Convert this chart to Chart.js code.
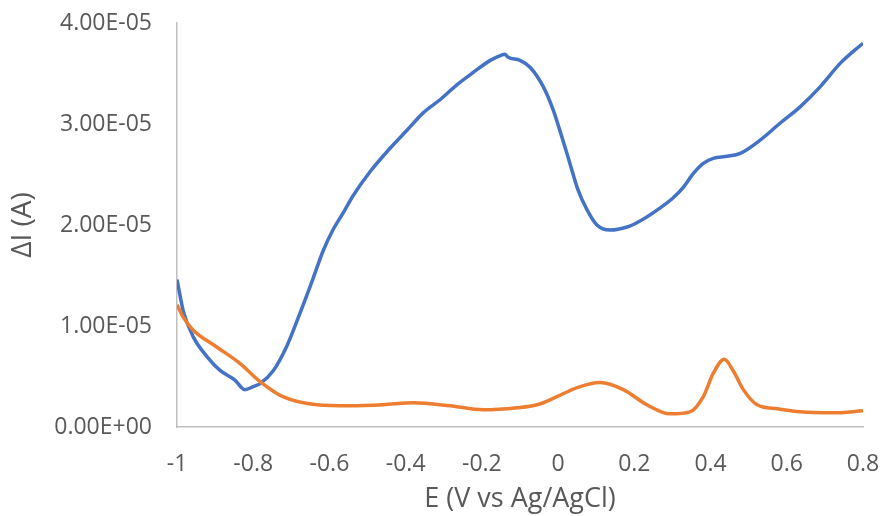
<!DOCTYPE html>
<html>
<head>
<meta charset="utf-8">
<script src="https://cdn.jsdelivr.net/npm/chart.js@4"></script>
<style>
  html, body { margin: 0; padding: 0; background: #fff; }
  #wrap { width: 882px; height: 516px; }
</style>
</head>
<body>
<div id="wrap"><canvas id="grafico" width="882" height="516"></canvas></div>
<script>
// curva azul (E em V, corrente em A)
const azulE = [-1.000, -0.983, -0.957, -0.922, -0.887, -0.848, -0.822, -0.800, -0.782, -0.747,
  -0.712, -0.677, -0.643, -0.617, -0.591, -0.564, -0.538, -0.493, -0.441, -0.396,
  -0.354, -0.310, -0.265, -0.223, -0.178, -0.150, -0.140, -0.131, -0.100, -0.073,
  -0.039, -0.013, 0.010, 0.031, 0.052, 0.076, 0.102, 0.136, 0.181, 0.215,
  0.268, 0.302, 0.328, 0.355, 0.381, 0.407, 0.444, 0.478, 0.530, 0.583,
  0.635, 0.688, 0.740, 0.800];
const azulI = [1.46e-5, 1.14e-5, 0.89e-5, 0.70e-5, 0.56e-5, 0.465e-5, 0.37e-5, 0.40e-5, 0.43e-5, 0.56e-5,
  0.80e-5, 1.13e-5, 1.47e-5, 1.74e-5, 1.95e-5, 2.12e-5, 2.29e-5, 2.53e-5, 2.76e-5, 2.94e-5,
  3.11e-5, 3.24e-5, 3.39e-5, 3.51e-5, 3.63e-5, 3.68e-5, 3.69e-5, 3.66e-5, 3.63e-5, 3.56e-5,
  3.37e-5, 3.14e-5, 2.87e-5, 2.61e-5, 2.35e-5, 2.15e-5, 2.00e-5, 1.95e-5, 1.98e-5, 2.04e-5,
  2.17e-5, 2.27e-5, 2.37e-5, 2.51e-5, 2.61e-5, 2.66e-5, 2.68e-5, 2.71e-5, 2.84e-5, 3.01e-5,
  3.17e-5, 3.37e-5, 3.60e-5, 3.80e-5];

// curva laranja
const laranjaE = [-1.000, -0.984, -0.958, -0.895, -0.835, -0.782, -0.722, -0.633, -0.546, -0.459,
  -0.380, -0.283, -0.197, -0.108, -0.055, -0.003, 0.050, 0.110, 0.171, 0.233,
  0.294, 0.346, 0.381, 0.407, 0.436, 0.459, 0.486, 0.522, 0.575, 0.635,
  0.722, 0.800];
const laranjaI = [1.21e-5, 1.09e-5, 0.96e-5, 0.79e-5, 0.63e-5, 0.45e-5, 0.30e-5, 0.22e-5, 0.21e-5, 0.22e-5,
  0.24e-5, 0.21e-5, 0.17e-5, 0.19e-5, 0.22e-5, 0.30e-5, 0.39e-5, 0.44e-5, 0.37e-5, 0.22e-5,
  0.13e-5, 0.15e-5, 0.30e-5, 0.53e-5, 0.67e-5, 0.56e-5, 0.37e-5, 0.22e-5, 0.18e-5, 0.15e-5,
  0.14e-5, 0.16e-5];

const xTicks = ['-1', '-0.8', '-0.6', '-0.4', '-0.2', '0', '0.2', '0.4', '0.6', '0.8'];
const yTicks = ['0.00E+00', '1.00E-05', '2.00E-05', '3.00E-05', '4.00E-05'];

const cinza = '#595959';
const fonte = 'Open Sans';

function pontos(xs, ys) {
  return xs.map((x, i) => ({ x: x, y: ys[i] }));
}

function serie(xs, ys, cor) {
  return {
    data: pontos(xs, ys),
    borderColor: cor,
    backgroundColor: cor,
    borderWidth: 3.5,
    pointRadius: 0,
    showLine: true,
    tension: 0.4,
    cubicInterpolationMode: 'monotone',
    fill: false
  };
}

// zera o padding automatico dos eixos para controlar a area do grafico
function semPadding(s) {
  s.paddingTop = 0;
  s.paddingBottom = 0;
  s.paddingLeft = 0;
  s.paddingRight = 0;
}

new Chart(document.getElementById('grafico'), {
  type: 'scatter',
  data: {
    datasets: [
      serie(laranjaE, laranjaI, '#ED7D31'),
      serie(azulE, azulI, '#4472C4')
    ]
  },
  options: {
    responsive: false,
    animation: false,
    layout: { padding: { top: 23, right: 19, bottom: 0, left: 0 } },
    plugins: { legend: { display: false }, tooltip: { enabled: false } },
    scales: {
      x: {
        type: 'linear',
        min: -1,
        max: 0.8,
        afterBuildTicks: (s) => { s.ticks = xTicks.map(t => ({ value: parseFloat(t) })); },
        afterFit: (s) => { s.height = 89; semPadding(s); },
        grid: { display: false, drawTicks: false },
        border: { display: true, color: '#BFBFBF', width: 1.5 },
        ticks: {
          padding: 24,
          color: cinza,
          font: { family: fonte, size: 23 },
          maxRotation: 0,
          callback: (v, i) => xTicks[i]
        },
        title: {
          display: true,
          text: 'E (V vs Ag/AgCl)',
          color: cinza,
          font: { family: fonte, size: 27 },
          padding: { top: 0, bottom: 0 }
        }
      },
      y: {
        type: 'linear',
        min: 0,
        max: 4e-5,
        afterBuildTicks: (s) => { s.ticks = yTicks.map(t => ({ value: parseFloat(t) })); },
        afterFit: (s) => { s.width = 177; semPadding(s); },
        grid: { display: false, drawTicks: false },
        border: { display: true, color: '#BFBFBF', width: 1.5 },
        ticks: {
          padding: 25,
          color: cinza,
          font: { family: fonte, size: 23 },
          callback: (v, i) => yTicks[i]
        },
        title: {
          display: true,
          text: 'ΔI (A)',
          color: cinza,
          font: { family: fonte, size: 28 },
          padding: { top: 6, bottom: 0 }
        }
      }
    }
  }
});
</script>
</body>
</html>
